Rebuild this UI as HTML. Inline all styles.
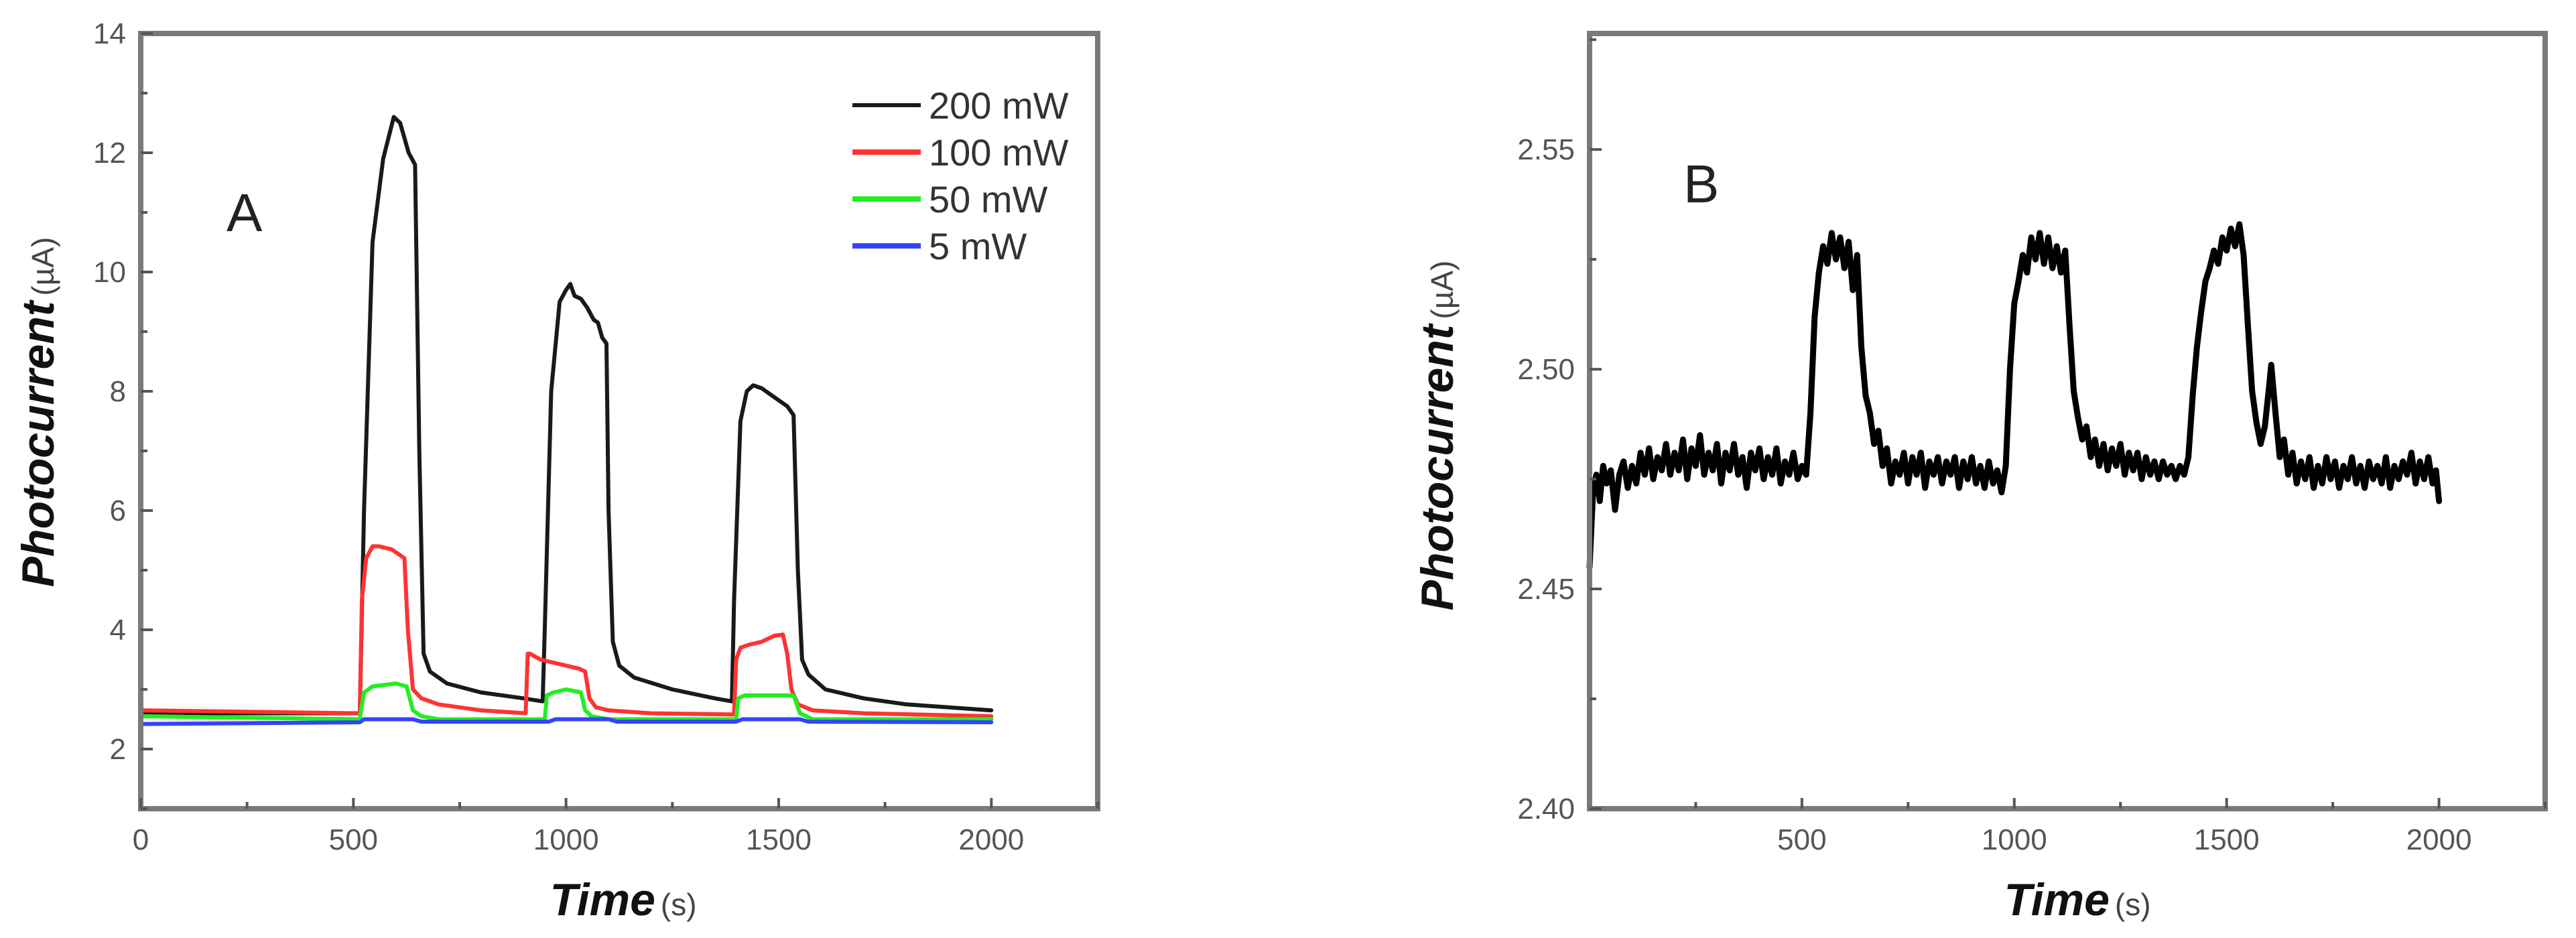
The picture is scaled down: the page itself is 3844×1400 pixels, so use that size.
<!DOCTYPE html>
<html><head><meta charset="utf-8"><style>
html,body{margin:0;padding:0;background:#fff;}
svg{display:block;}
text{font-family:"Liberation Sans",Arial,sans-serif;}
</style></head><body>
<svg id="fig" width="3844" height="1400" viewBox="0 0 3844 1400" xmlns="http://www.w3.org/2000/svg">
<rect x="0" y="0" width="3844" height="1400" fill="#fff"/>
<g id="panelA"></g>
<g id="panelB"></g>
</svg>
<script>
// ---------- Panel A data ----------
const aXTicks = [0, 500, 1000, 1500, 2000];
const aYTicks = [2, 4, 6, 8, 10, 12, 14];
const blackT = [0,100,300,515,525,545,570,595,610,630,645,655,665,680,720,800,900,945,950,965,985,1000,1010,1020,1035,1050,1065,1075,1085,1095,1100,1110,1125,1160,1250,1350,1390,1395,1410,1425,1440,1460,1480,1500,1520,1535,1545,1555,1570,1610,1700,1800,1900,2000];
const blackV = [2.6,2.6,2.6,2.6,6,10.5,11.9,12.6,12.5,12.0,11.8,7,3.6,3.3,3.1,2.95,2.85,2.8,4,8,9.5,9.7,9.8,9.6,9.55,9.4,9.2,9.15,8.9,8.8,6,3.8,3.4,3.2,3.0,2.85,2.8,4.5,7.5,8.0,8.1,8.05,7.95,7.85,7.75,7.6,5,3.5,3.25,3.0,2.85,2.75,2.7,2.65];
const redT = [0,515,520,530,545,560,590,620,628,640,660,700,800,905,910,915,940,970,1000,1030,1045,1055,1070,1100,1200,1395,1400,1410,1430,1460,1490,1510,1520,1530,1545,1580,1700,2000];
const redV = [2.65,2.6,4.5,5.2,5.4,5.4,5.35,5.2,4,3.0,2.85,2.75,2.65,2.6,3.6,3.6,3.5,3.45,3.4,3.35,3.3,2.85,2.7,2.65,2.6,2.58,3.5,3.7,3.75,3.8,3.9,3.92,3.6,3.0,2.75,2.65,2.6,2.55];
const greenT = [0,515,525,545,600,625,640,660,700,950,955,970,1000,1035,1045,1060,1100,1400,1405,1420,1500,1535,1550,1580,2000];
const greenV = [2.55,2.5,2.95,3.05,3.1,3.05,2.65,2.55,2.5,2.5,2.9,2.95,3.0,2.95,2.65,2.55,2.5,2.5,2.85,2.9,2.9,2.9,2.6,2.5,2.5];
const blueT = [0,515,525,640,660,960,975,1100,1120,1400,1415,1550,1570,2000];
const blueV = [2.42,2.45,2.5,2.5,2.46,2.46,2.5,2.5,2.46,2.46,2.5,2.5,2.46,2.45];
const legendLabels = ["200 mW","100 mW","50 mW","5 mW"];

// ---------- Panel B data ----------
const bXTicks = [500, 1000, 1500, 2000];
const bYTicks = [2.40, 2.45, 2.50, 2.55];
const bYTickLabels = ["2.40","2.45","2.50","2.55"];
const bT = [0,8,16,24,32,40,50,60,70,80,90,100,110,120,130,140,150,160,170,180,190,200,210,220,230,240,250,260,270,280,290,300,310,320,330,340,350,360,370,380,390,400,410,420,430,440,450,460,470,480,490,500,510,520,530,540,550,560,570,580,590,600,610,620,630,640,650,660,670,680,690,700,710,720,730,740,750,760,770,780,790,800,810,820,830,840,850,860,870,880,890,900,910,920,930,940,950,960,970,980,990,1000,1010,1020,1030,1040,1050,1060,1070,1080,1090,1100,1110,1120,1130,1140,1150,1160,1170,1180,1190,1200,1210,1220,1230,1240,1250,1260,1270,1280,1290,1300,1310,1320,1330,1340,1350,1360,1370,1380,1390,1400,1410,1420,1430,1440,1450,1460,1470,1480,1490,1500,1510,1520,1530,1540,1550,1560,1570,1580,1590,1600,1605,1615,1625,1635,1645,1655,1665,1675,1685,1695,1705,1715,1725,1735,1745,1755,1765,1775,1785,1795,1805,1815,1825,1835,1845,1855,1865,1875,1885,1895,1905,1915,1925,1935,1945,1955,1965,1975,1985,1993,2000];
const bV = [2.455,2.472,2.476,2.470,2.478,2.474,2.477,2.468,2.476,2.479,2.473,2.478,2.474,2.481,2.476,2.482,2.475,2.480,2.477,2.483,2.476,2.481,2.477,2.484,2.475,2.482,2.478,2.485,2.476,2.481,2.477,2.483,2.474,2.481,2.477,2.483,2.476,2.480,2.473,2.481,2.477,2.482,2.475,2.480,2.476,2.482,2.474,2.479,2.476,2.481,2.475,2.478,2.476,2.490,2.512,2.522,2.528,2.524,2.531,2.525,2.530,2.523,2.529,2.518,2.526,2.505,2.494,2.490,2.483,2.486,2.478,2.482,2.474,2.479,2.476,2.481,2.474,2.480,2.476,2.481,2.473,2.479,2.476,2.480,2.474,2.479,2.476,2.480,2.473,2.479,2.475,2.480,2.474,2.478,2.473,2.479,2.474,2.477,2.472,2.478,2.500,2.515,2.520,2.526,2.522,2.530,2.525,2.531,2.524,2.530,2.523,2.528,2.522,2.527,2.510,2.495,2.489,2.484,2.487,2.480,2.484,2.478,2.483,2.477,2.482,2.478,2.483,2.476,2.481,2.477,2.481,2.475,2.480,2.476,2.479,2.475,2.479,2.476,2.478,2.475,2.478,2.476,2.480,2.494,2.505,2.513,2.520,2.523,2.527,2.524,2.530,2.527,2.532,2.528,2.533,2.526,2.510,2.495,2.488,2.483,2.487,2.496,2.501,2.490,2.480,2.484,2.476,2.481,2.474,2.479,2.475,2.480,2.473,2.478,2.474,2.480,2.475,2.479,2.473,2.478,2.475,2.480,2.474,2.478,2.473,2.479,2.475,2.478,2.474,2.480,2.473,2.478,2.475,2.479,2.476,2.481,2.474,2.479,2.475,2.480,2.474,2.477,2.470];

const NS = "http://www.w3.org/2000/svg";
function mk(parent, tag, attrs, txt){
  const e = document.createElementNS(NS, tag);
  for (const k in attrs) e.setAttribute(k, attrs[k]);
  if (txt !== undefined) e.textContent = txt;
  parent.appendChild(e);
  return e;
}

// ===== Panel A =====
const A = {l:210, r:1638, t:50, b:1207, x0:0, x1:2250, y0:1, y1:14};
const axA = v => A.l + (v - A.x0) / (A.x1 - A.x0) * (A.r - A.l);
const ayA = v => A.b - (v - A.y0) / (A.y1 - A.y0) * (A.b - A.t);
const gA = document.getElementById('panelA');

function seriesPath(g, ts, vs, fx, fy, color, w, name){
  let d = "";
  const n = Math.min(ts.length, vs.length);
  for (let i = 0; i < n; i++) d += (i ? "L" : "M") + fx(ts[i]).toFixed(1) + " " + fy(vs[i]).toFixed(1);
  const p = mk(g, 'path', {d:d, fill:'none', stroke:color, 'stroke-width':w, 'stroke-linejoin':'round', 'stroke-linecap':'round'});
  
  
  return p;
}

seriesPath(gA, blackT, blackV, axA, ayA, '#1a1a1a', 6, 'series-200mw');
seriesPath(gA, redT, redV, axA, ayA, '#ff3333', 6, 'series-100mw');
seriesPath(gA, greenT, greenV, axA, ayA, '#22ee22', 6, 'series-50mw');
seriesPath(gA, blueT, blueV, axA, ayA, '#3344ff', 6, 'series-5mw');

function frame(g, P, name){
  const f = mk(g, 'rect', {x:P.l, y:P.t, width:P.r-P.l, height:P.b-P.t, fill:'none', stroke:'#7a7a7a', 'stroke-width':8});
  
  
}
frame(gA, A, 'plot-frame-a');

for (let v = 0; v <= 2250; v += 250) {
  const major = v % 500 === 0;
  const tk = mk(gA, 'line', {x1:axA(v), x2:axA(v), y1:A.b, y2:A.b-(major?16:10), stroke:'#555', 'stroke-width':4});
  
  
}
aXTicks.forEach(v => {
  const t = mk(gA, 'text', {x:axA(v), y:1268, 'font-size':44, fill:'#555', 'text-anchor':'middle'}, String(v));
  
  
});
for (let v = 1; v <= 14; v += 1) {
  const major = v % 2 === 0;
  const tk = mk(gA, 'line', {x1:A.l, x2:A.l+(major?18:10), y1:ayA(v), y2:ayA(v), stroke:'#555', 'stroke-width':4});
  
  
}
aYTicks.forEach(v => {
  const t = mk(gA, 'text', {x:188, y:ayA(v)+15, 'font-size':44, fill:'#555', 'text-anchor':'end'}, String(v));
  
  
});
{
  const t = mk(gA, 'text', {transform:'translate(80,615) rotate(-90)', 'text-anchor':'middle', fill:'#111'});
  
  
  mk(t, 'tspan', {'font-size':68, 'font-weight':'bold', 'font-style':'italic'}, 'Photocurrent');
  mk(t, 'tspan', {'font-size':46, fill:'#444', dx:8}, '(µA)');
  const x = mk(gA, 'text', {x:930, y:1366, 'text-anchor':'middle', fill:'#111'});
  
  
  mk(x, 'tspan', {'font-size':68, 'font-weight':'bold', 'font-style':'italic'}, 'Time');
  mk(x, 'tspan', {'font-size':46, fill:'#444', dx:8}, '(s)');
  const lab = mk(gA, 'text', {x:338, y:345, 'font-size':80, fill:'#222'}, 'A');
  
  
}
{
  const lg = mk(gA, 'g', {});
  
  
  const cols = ['#1a1a1a','#ff3333','#22ee22','#3344ff'];
  legendLabels.forEach((lbl, i) => {
    const y = 157 + i * 70;
    const e = mk(lg, 'g', {});
    
    
    mk(e, 'line', {x1:1272, x2:1374, y1:y, y2:y, stroke:cols[i], 'stroke-width':i===0?6:8});
    mk(e, 'text', {x:1386, y:y+20, 'font-size':56, fill:'#333'}, lbl);
  });
}

// ===== Panel B =====
const B = {l:2372, r:3798, t:50, b:1207, x0:0, x1:2250, y0:2.40, y1:2.5764};
const axB = v => B.l + (v - B.x0) / (B.x1 - B.x0) * (B.r - B.l);
const ayB = v => B.b - (v - B.y0) / (B.y1 - B.y0) * (B.b - B.t);
const gB = document.getElementById('panelB');
seriesPath(gB, bT, bV, axB, ayB, '#000', 9, 'series-photocurrent-b');
frame(gB, B, 'plot-frame-b');
for (let v = 250; v <= 2250; v += 250) {
  const major = v % 500 === 0;
  const tk = mk(gB, 'line', {x1:axB(v), x2:axB(v), y1:B.b, y2:B.b-(major?16:10), stroke:'#555', 'stroke-width':4});
  
  
}
bXTicks.forEach(v => {
  const t = mk(gB, 'text', {x:axB(v), y:1268, 'font-size':44, fill:'#555', 'text-anchor':'middle'}, String(v));
  
  
});
for (let k = 0; k <= 7; k++) {
  const v = 2.40 + k * 0.025;
  const major = k % 2 === 0;
  const tk = mk(gB, 'line', {x1:B.l, x2:B.l+(major?18:10), y1:ayB(v), y2:ayB(v), stroke:'#555', 'stroke-width':4});
  
  
}
bYTicks.forEach((v, i) => {
  const t = mk(gB, 'text', {x:2350, y:ayB(v)+15, 'font-size':44, fill:'#555', 'text-anchor':'end'}, bYTickLabels[i]);
  
  
});
{
  const t = mk(gB, 'text', {transform:'translate(2168,650) rotate(-90)', 'text-anchor':'middle', fill:'#111'});
  
  
  mk(t, 'tspan', {'font-size':68, 'font-weight':'bold', 'font-style':'italic'}, 'Photocurrent');
  mk(t, 'tspan', {'font-size':46, fill:'#444', dx:8}, '(µA)');
  const x = mk(gB, 'text', {x:3100, y:1366, 'text-anchor':'middle', fill:'#111'});
  
  
  mk(x, 'tspan', {'font-size':68, 'font-weight':'bold', 'font-style':'italic'}, 'Time');
  mk(x, 'tspan', {'font-size':46, fill:'#444', dx:8}, '(s)');
  const lab = mk(gB, 'text', {x:2512, y:302, 'font-size':80, fill:'#222'}, 'B');
  
  
}
</script>
</body></html>
